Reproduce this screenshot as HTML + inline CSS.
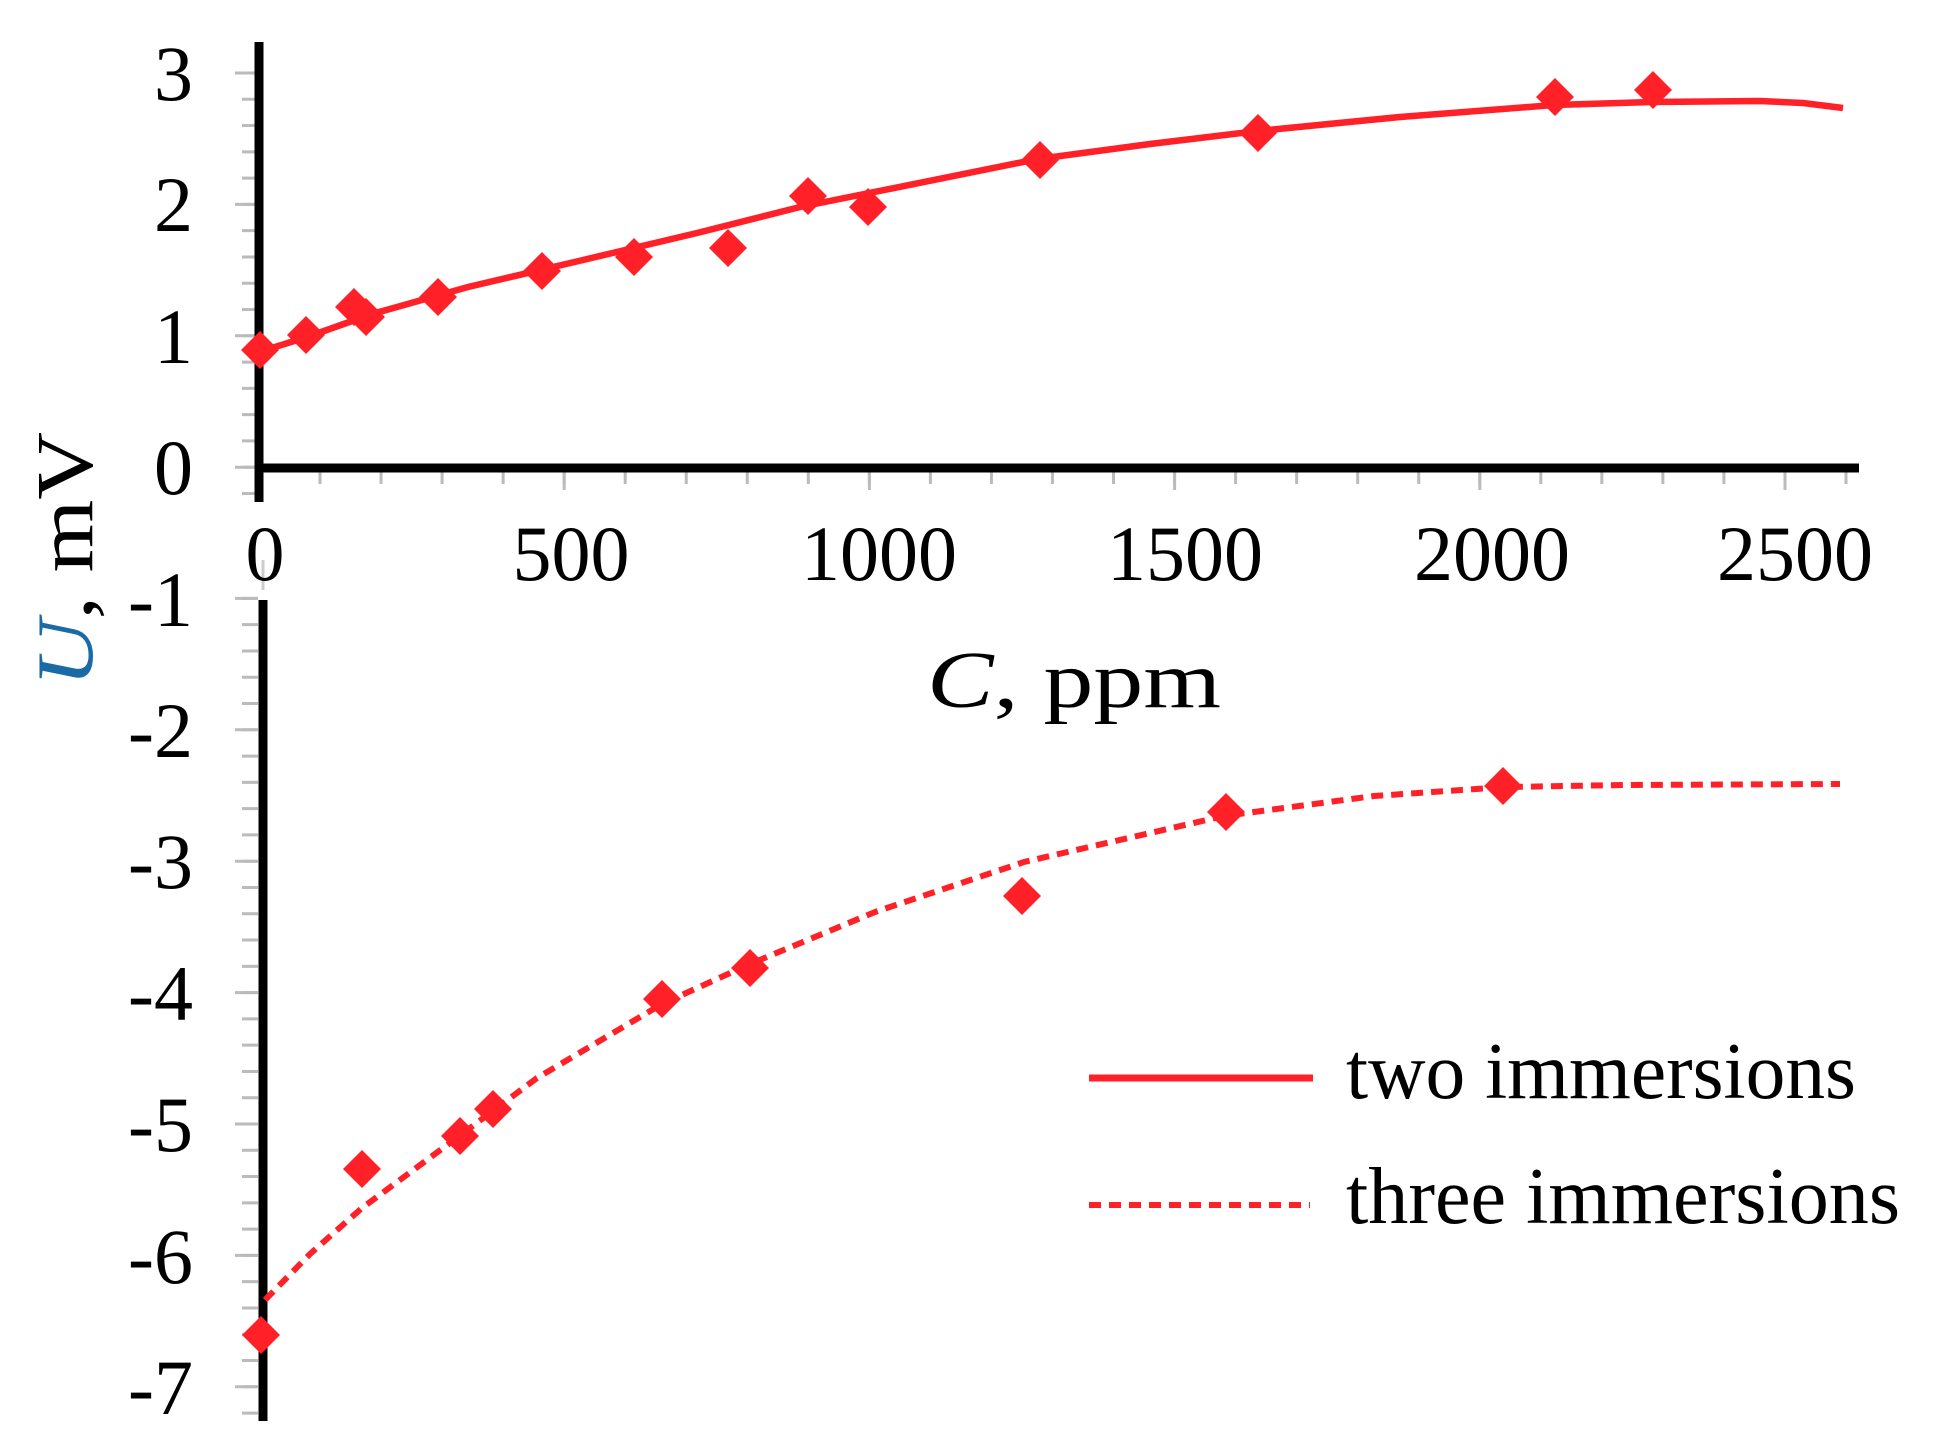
<!DOCTYPE html>
<html><head><meta charset="utf-8"><style>
html,body{margin:0;padding:0;background:#fff;}
svg{display:block;}
text{font-family:"Liberation Serif",serif;fill:#000;}
</style></head><body>
<svg width="1959" height="1451" viewBox="0 0 1959 1451" xmlns="http://www.w3.org/2000/svg">
<line x1="250" y1="71.5" x2="250" y2="505" stroke="#bbb" stroke-width="16" stroke-dasharray="3 23.28"/>
<line x1="246" y1="71.5" x2="246" y2="505" stroke="#bbb" stroke-width="22" stroke-dasharray="3 128.4"/>
<line x1="250" y1="596.9" x2="250" y2="1416" stroke="#bbb" stroke-width="16" stroke-dasharray="3 23.28"/>
<line x1="246" y1="596.9" x2="246" y2="1416" stroke="#bbb" stroke-width="22" stroke-dasharray="3 128.4"/>
<line x1="318.5" y1="478" x2="1860" y2="478" stroke="#bbb" stroke-width="12" stroke-dasharray="3 58.04"/>
<line x1="257.5" y1="481" x2="1860" y2="481" stroke="#bbb" stroke-width="18" stroke-dasharray="3 302.2"/>
<line x1="263" y1="560" x2="263" y2="590" stroke="#ccc" stroke-width="3"/>
<line x1="259" y1="42" x2="259" y2="502" stroke="#000" stroke-width="9"/>
<line x1="255" y1="468" x2="1859" y2="468" stroke="#000" stroke-width="9"/>
<line x1="263" y1="600" x2="263" y2="1421" stroke="#000" stroke-width="9"/>
<g font-size="78" text-anchor="end">
<text x="193" y="100">3</text>
<text x="193" y="231">2</text>
<text x="193" y="363">1</text>
<text x="193" y="494">0</text>
<text x="193" y="626">-1</text>
<text x="193" y="757">-2</text>
<text x="193" y="888">-3</text>
<text x="193" y="1020">-4</text>
<text x="193" y="1151">-5</text>
<text x="193" y="1283">-6</text>
<text x="193" y="1414">-7</text>
</g>
<g font-size="78" text-anchor="middle">
<text x="265" y="580">0</text>
<text x="571" y="580">500</text>
<text x="879" y="580">1000</text>
<text x="1185" y="580">1500</text>
<text x="1492" y="580">2000</text>
<text x="1795" y="580">2500</text>
</g>
<text x="927" y="707" font-size="80" textLength="294" lengthAdjust="spacingAndGlyphs"><tspan font-style="italic">C</tspan>, ppm</text>
<text transform="translate(92,687) rotate(-90)" font-size="80" textLength="255" lengthAdjust="spacingAndGlyphs"><tspan font-style="italic" style="fill:#1a6aa6">U</tspan>, mV</text>
<path d="M259,352 L307,337 L372,314 L468,287 L583,260 L697,233 L800,207 L1038,159 L1150,144 L1258,131 L1400,117 L1554,105 L1652,102 L1760,101 L1803,103 L1843,108" fill="none" stroke="#ff2028" stroke-width="6.5" stroke-linejoin="round"/>
<path d="M265,1300 L310,1254 L362,1208 L462,1134 L537,1078 L662,1004 L750,964 L875,912 L1024,862 L1224,816 L1374,796 L1505,787 L1624,785 L1840,784" fill="none" stroke="#ff2028" stroke-width="6" stroke-dasharray="12 8"/>
<g fill="#ff2028">
<path d="M0,-19 L19,0 L0,19 L-19,0 Z" transform="translate(260,350)"/>
<path d="M0,-19 L19,0 L0,19 L-19,0 Z" transform="translate(306,335)"/>
<path d="M0,-19 L19,0 L0,19 L-19,0 Z" transform="translate(354,307)"/>
<path d="M0,-19 L19,0 L0,19 L-19,0 Z" transform="translate(366,317)"/>
<path d="M0,-19 L19,0 L0,19 L-19,0 Z" transform="translate(438,297)"/>
<path d="M0,-19 L19,0 L0,19 L-19,0 Z" transform="translate(542,271)"/>
<path d="M0,-19 L19,0 L0,19 L-19,0 Z" transform="translate(634,257)"/>
<path d="M0,-19 L19,0 L0,19 L-19,0 Z" transform="translate(728,248)"/>
<path d="M0,-19 L19,0 L0,19 L-19,0 Z" transform="translate(808,196)"/>
<path d="M0,-19 L19,0 L0,19 L-19,0 Z" transform="translate(868,207)"/>
<path d="M0,-19 L19,0 L0,19 L-19,0 Z" transform="translate(1040,160)"/>
<path d="M0,-19 L19,0 L0,19 L-19,0 Z" transform="translate(1258,133)"/>
<path d="M0,-19 L19,0 L0,19 L-19,0 Z" transform="translate(1555,97)"/>
<path d="M0,-19 L19,0 L0,19 L-19,0 Z" transform="translate(1653,90)"/>
<path d="M0,-19 L19,0 L0,19 L-19,0 Z" transform="translate(261,1335)"/>
<path d="M0,-19 L19,0 L0,19 L-19,0 Z" transform="translate(362,1169)"/>
<path d="M0,-19 L19,0 L0,19 L-19,0 Z" transform="translate(460,1136)"/>
<path d="M0,-19 L19,0 L0,19 L-19,0 Z" transform="translate(493,1109)"/>
<path d="M0,-19 L19,0 L0,19 L-19,0 Z" transform="translate(662,999)"/>
<path d="M0,-19 L19,0 L0,19 L-19,0 Z" transform="translate(750,968)"/>
<path d="M0,-19 L19,0 L0,19 L-19,0 Z" transform="translate(1022,896)"/>
<path d="M0,-19 L19,0 L0,19 L-19,0 Z" transform="translate(1226,812)"/>
<path d="M0,-19 L19,0 L0,19 L-19,0 Z" transform="translate(1503,786)"/>
</g>
<line x1="1089" y1="1078" x2="1313" y2="1078" stroke="#ff2028" stroke-width="7"/>
<line x1="1089" y1="1205" x2="1310" y2="1205" stroke="#ff2028" stroke-width="6" stroke-dasharray="12 8"/>
<text x="1346" y="1098" font-size="80" textLength="510" lengthAdjust="spacingAndGlyphs">two immersions</text>
<text x="1346" y="1223" font-size="80" textLength="554" lengthAdjust="spacingAndGlyphs">three immersions</text>
</svg>
</body></html>
